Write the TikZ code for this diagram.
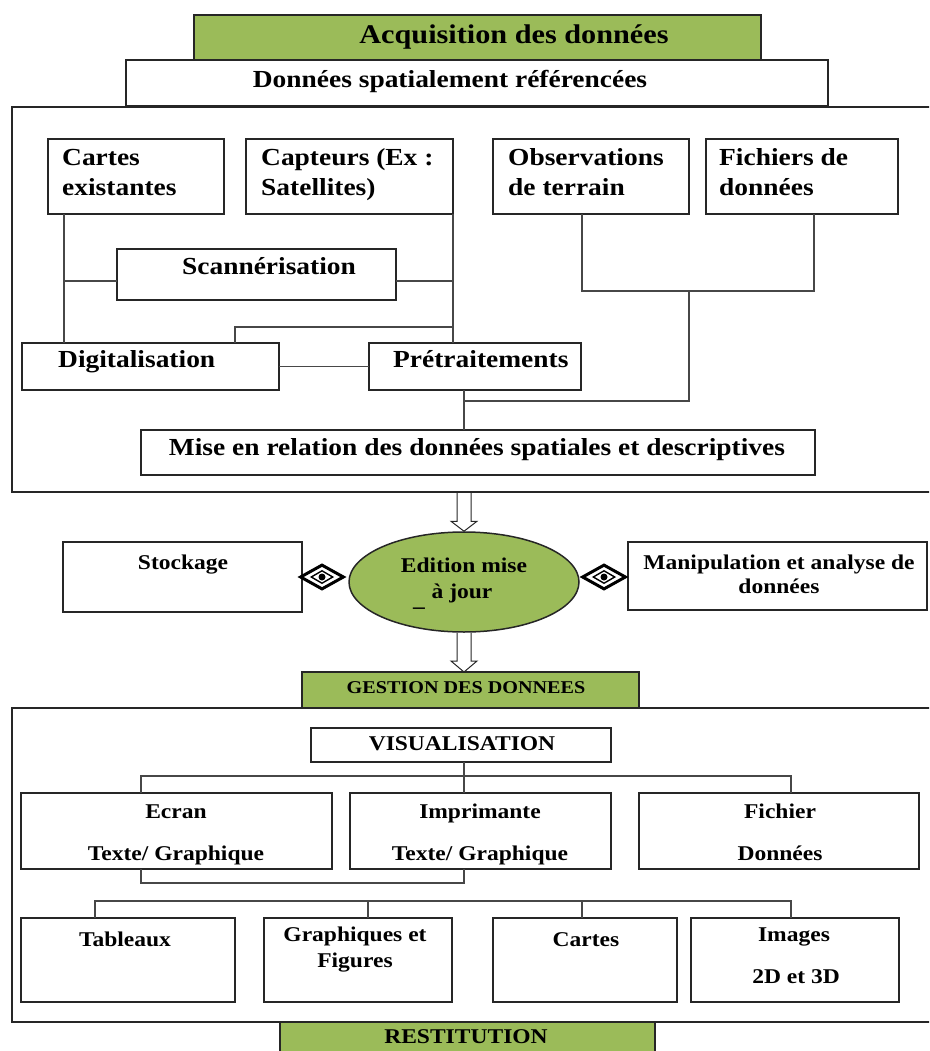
\documentclass[tikz,border=0pt]{standalone}
\usepackage{fontspec}
\setmainfont{Liberation Serif}[FakeStretch=1.12]
\usetikzlibrary{shapes.geometric,calc}
\definecolor{ogreen}{RGB}{155,187,89}
\tikzset{
 bx/.style={draw=black!85, line width=1.7pt, fill=white, inner sep=0pt, outer sep=0pt},
 gbx/.style={bx, fill=ogreen},
 conn/.style={draw=black!72, line width=1.7pt},
 harrow/.style={draw=black!85, line width=1pt, line join=miter},
 tl/.style={font=\bfseries\fontsize{24.5}{28}\selectfont, inner sep=0pt, anchor=base},
 tlw/.style={tl, anchor=base west},
 ts/.style={font=\bfseries\fontsize{21}{24}\selectfont, inner sep=0pt, anchor=base},
 ttitle/.style={font=\bfseries\fontsize{27}{30}\selectfont, inner sep=0pt, anchor=base},
 tgest/.style={font=\bfseries\fontsize{18}{20}\selectfont, inner sep=0pt, anchor=base},
 dmo/.style={diamond, draw=black, line width=3pt, fill=white, minimum width=44pt, minimum height=25pt, inner sep=0pt},
 dmi/.style={diamond, draw=black, line width=1.4pt, fill=white, minimum width=22pt, minimum height=13pt, inner sep=0pt},
 dmc/.style={circle, fill=black, minimum size=7pt, inner sep=0pt}
}
\newcommand\mkbox[6][bx]{\node[#1, anchor=north west, minimum width={(#5-#3)*1pt}, minimum height={(#6-#4)*1pt}] (#2) at (#3,#4) {};}
\begin{document}
\begin{tikzpicture}[x=1pt,y=-1pt]
\useasboundingbox (0,0) rectangle (929,1051);
\clip (0,0) rectangle (929,1051);
% ---------- top section ----------
\mkbox{big1}{12}{107}{945}{492}
\mkbox[gbx]{acq}{194}{15}{761}{60}
\mkbox{dsr}{126}{60}{828}{106}
\node[ttitle] (tacq) at (514,44) {Acquisition des données};
\node[tl] (tdsr) at (450,88) {Données spatialement référencées};

\mkbox{cartes}{48}{139}{224}{214}
\mkbox{capt}{246}{139}{453}{214}
\mkbox{obs}{493}{139}{689}{214}
\mkbox{fich}{706}{139}{898}{214}
\mkbox{scan}{117}{249}{396}{300}
\mkbox{dig}{22}{343}{279}{390}
\mkbox{pre}{369}{343}{581}{390}
\mkbox{mise}{141}{430}{815}{475}

\node[tlw] (tcar1) at (62,166) {Cartes};
\node[tlw] (tcar2) at (62,195) {existantes};
\node[tlw] (tcap1) at (261,166) {Capteurs (Ex :};
\node[tlw] (tcap2) at (261,195) {Satellites)};
\node[tlw] (tobs1) at (508,166) {Observations};
\node[tlw] (tobs2) at (508,195) {de terrain};
\node[tlw] (tfic1) at (719,166) {Fichiers de};
\node[tlw] (tfic2) at (719,195) {données};
\node[tl] (tscan) at (269,274) {Scannérisation};
\node[tlw] (tdig) at (58,367) {Digitalisation};
\node[tlw] (tpre) at (393,367) {Prétraitements};
\node[tl] (tmise) at (477,455) {Mise en relation des données spatiales et descriptives};

\coordinate (j1) at (64,281);
\coordinate (j2) at (453,281);
\coordinate (j3) at (453,327);
\coordinate (j4) at (235,327);
\coordinate (j5) at (582,291);
\coordinate (j6) at (814,291);
\coordinate (j7) at (689,291);
\coordinate (j8) at (689,401);
\coordinate (j9) at (464,401);

\draw[conn] (cartes.south -| j1) -- (dig.north -| j1);
\draw[conn] (capt.south -| j2) -- (pre.north -| j2);
\draw[conn] (scan.west |- j1) -- (j1);
\draw[conn] (scan.east |- j2) -- (j2);
\draw[conn] (j3) -- (j4) -- (dig.north -| j4);
\draw[conn] (dig.east) -- (pre.west);
\draw[conn] (obs.south -| j5) -- (j5) -- (j6) -- (fich.south -| j6);
\draw[conn] (j7) -- (j8) -- (j9);
\draw[conn] (pre.south -| j9) -- (mise.north -| j9);

% ---------- middle section ----------
\mkbox{stock}{63}{542}{302}{612}
\mkbox{manip}{628}{542}{927}{610}
\node[ellipse, draw=black!85, line width=1.5pt, fill=ogreen, minimum width=230pt, minimum height=100pt, inner sep=0pt] (edit) at (464,582) {};
\node[ts] (tstock) at (183,569) {Stockage};
\node[ts] (tedit1) at (464,572) {Edition mise};
\node[ts] (tedit2) at (462,598) {à jour};
\node[ts] (tedit3) at (419,606) {\_};
\node[ts] (tman1) at (779,569) {Manipulation et analyse de};
\node[ts] (tman2) at (779,593) {données};

\node[dmo] (dl) at (322,577) {};
\node[dmi] (dli) at (dl) {};
\node[dmc] (dlc) at (dl) {};
\node[dmo] (dr) at (604,577) {};
\node[dmi] (dri) at (dr) {};
\node[dmc] (drc) at (dr) {};

\mkbox[gbx]{gest}{302}{672}{639}{708}
\node[tgest] (tgest) at (466,693) {GESTION DES DONNEES};

\coordinate (a1) at (big1.south -| edit.north);
\draw[harrow] ($(a1)+(-7,0)$) -- ($(edit.north)+(-7,-10)$) -- ($(edit.north)+(-13,-10)$) -- (edit.north)
  -- ($(edit.north)+(13,-10)$) -- ($(edit.north)+(7,-10)$) -- ($(a1)+(7,0)$);
\coordinate (a2) at (gest.north -| edit.south);
\draw[harrow] ($(edit.south)+(-7,0)$) -- ($(a2)+(-7,-11)$) -- ($(a2)+(-13,-11)$) -- (a2)
  -- ($(a2)+(13,-11)$) -- ($(a2)+(7,-11)$) -- ($(edit.south)+(7,0)$);

% ---------- bottom section ----------
\mkbox{big2}{12}{708}{945}{1022}
\mkbox{vis}{311}{728}{611}{762}
\mkbox{ecran}{21}{793}{332}{869}
\mkbox{impr}{350}{793}{611}{869}
\mkbox{fichier}{639}{793}{919}{869}
\mkbox{tab}{21}{918}{235}{1002}
\mkbox{graph}{264}{918}{452}{1002}
\mkbox{cartes2}{493}{918}{677}{1002}
\mkbox{images}{691}{918}{899}{1002}
\mkbox[gbx]{rest}{280}{1022}{655}{1065}

\node[ts] (tvis) at (462,750) {VISUALISATION};
\node[ts] (tecr1) at (176,818) {Ecran};
\node[ts] (tecr2) at (176,860) {Texte/ Graphique};
\node[ts] (timp1) at (480,818) {Imprimante};
\node[ts] (timp2) at (480,860) {Texte/ Graphique};
\node[ts] (tfi1) at (780,818) {Fichier};
\node[ts] (tfi2) at (780,860) {Données};
\node[ts] (ttab) at (125,946) {Tableaux};
\node[ts] (tgr1) at (355,941) {Graphiques et};
\node[ts] (tgr2) at (355,967) {Figures};
\node[ts] (tca) at (586,946) {Cartes};
\node[ts] (tim1) at (794,941) {Images};
\node[ts] (tim2) at (796,983) {2D et 3D};
\node[ts] (trest) at (466,1043) {RESTITUTION};

\coordinate (k1) at (141,776);
\coordinate (k2) at (791,776);
\coordinate (k3) at (141,883);
\coordinate (k4) at (464,883);
\coordinate (m1) at (95,901);
\coordinate (m2) at (368,901);
\coordinate (m3) at (582,901);
\coordinate (m4) at (791,901);

\draw[conn] (vis.south -| k4) -- (impr.north -| k4);
\draw[conn] (ecran.north -| k1) -- (k1) -- (k2) -- (fichier.north -| k2);
\draw[conn] (ecran.south -| k3) -- (k3) -- (k4) -- (impr.south -| k4);
\draw[conn] (tab.north -| m1) -- (m1) -- (m4) -- (images.north -| m4);
\draw[conn] (graph.north -| m2) -- (m2);
\draw[conn] (cartes2.north -| m3) -- (m3);
\end{tikzpicture}
\end{document}
